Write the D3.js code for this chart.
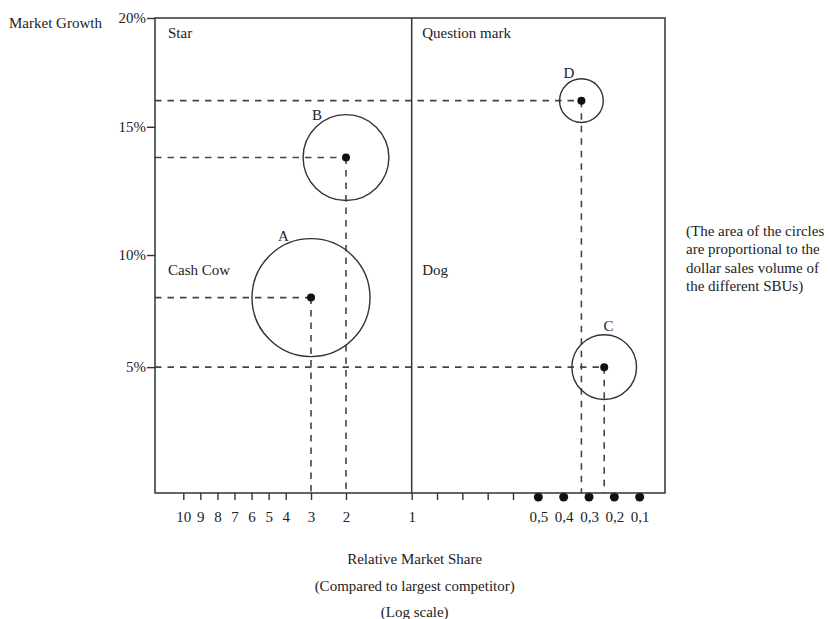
<!DOCTYPE html>
<html>
<head>
<meta charset="utf-8">
<script src="https://cdn.jsdelivr.net/npm/d3@7"></script>
<style>
  body { margin: 0; background: #fff; }
  svg text { font-family: "Liberation Serif", "Times New Roman", serif; font-size: 15px; fill: #222; }
  .frame { fill: none; stroke: #333; stroke-width: 1.5; }
  .guide { stroke: #444; stroke-width: 1.6; stroke-dasharray: 6.5,6; }
  .sbu-circle { fill: none; stroke: #333; stroke-width: 1.4; }
  .axis path { display: none; }
  .axis line { stroke: #333; stroke-width: 1.4; }
</style>
</head>
<body>
<div id="chart"></div>
<script>
// SBU data
const sbuNames = ['A', 'B', 'C', 'D'];
const relativeShare = [3, 2, 0.24, 0.33];      // relative market share (x)
const marketGrowth = [8.1, 13.8, 5, 16.2];      // market growth in % (y)
const salesVolume = [3.5, 1.85, 1.05, 0.48];    // dollar sales (circle area)

// Axis ticks
const growthTicks = [5, 10, 15, 20];
const shareTicks = [10, 9, 8, 7, 6, 5, 4, 3, 2, 1, 0.9, 0.8, 0.7, 0.6, 0.5, 0.4, 0.3, 0.2, 0.1];
const shareDots = [0.5, 0.4, 0.3, 0.2, 0.1];

const quadrantNames = ['Star', 'Question mark', 'Cash Cow', 'Dog'];
const noteLines = ['(The area of the circles', 'are proportional to the', 'dollar sales volume of', 'the different SBUs)'];
const xTitleLines = ['Relative Market Share', '(Compared to largest competitor)', '(Log scale)'];

const data = sbuNames.map((name, i) => ({
  name: name,
  share: relativeShare[i],
  growth: marketGrowth[i],
  sales: salesVolume[i]
}));

class BcgMatrix {

  constructor(_config, _data) {
    this.config = {
      parentElement: _config.parentElement,
      containerWidth: 829,
      containerHeight: 619,
      margin: {top: 18, right: 164, bottom: 126, left: 155},
      maxRadius: 59
    }
    this.data = _data;
    this.initVis();
  }

  initVis() {
    const vis = this;

    vis.config.width = vis.config.containerWidth - vis.config.margin.left - vis.config.margin.right;
    vis.config.height = vis.config.containerHeight - vis.config.margin.top - vis.config.margin.bottom;
    const w = vis.config.width, h = vis.config.height;

    vis.svg = d3.select(vis.config.parentElement).append('svg')
        .attr('width', vis.config.containerWidth)
        .attr('height', vis.config.containerHeight);

    vis.chart = vis.svg.append('g')
        .attr('transform', `translate(${vis.config.margin.left},${vis.config.margin.top})`);

    // The printed "log" axis is hand drawn: piecewise scale through its breaks
    vis.xScale = d3.scaleLinear()
        .domain([10, 4, 3, 2, 1, 0])
        .range([0.0555, 0.2563, 0.3059, 0.3745, 0.5033, 1].map(f => f * w));

    vis.yScale = d3.scaleLinear()
        .domain([0, 5, 10, 15, 20])
        .range([0, 0.265, 0.501, 0.771, 1].map(f => h - f * h));

    vis.rScale = d3.scaleSqrt()
        .domain([0, d3.max(vis.data, d => d.sales)])
        .range([0, vis.config.maxRadius]);

    vis.renderVis();
  }

  renderVis() {
    const vis = this;
    const w = vis.config.width, h = vis.config.height;
    const fmt = d3.formatLocale({decimal: ',', thousands: '.', grouping: [3], currency: ['', '']}).format('.1f');

    // y axis
    vis.chart.append('g')
        .attr('class', 'axis y-axis')
        .call(d3.axisLeft(vis.yScale)
          .tickValues(growthTicks)
          .tickSize(8)
          .tickPadding(1)
          .tickFormat(d => d + '%'));

    // x axis (the dotted values get a dot instead of a tick line)
    const xAxisG = vis.chart.append('g')
        .attr('class', 'axis x-axis')
        .attr('transform', `translate(0,${h})`)
        .call(d3.axisBottom(vis.xScale)
          .tickValues(shareTicks)
          .tickSize(7)
          .tickPadding(11)
          .tickFormat(d => d >= 1 ? d : (shareDots.includes(d) ? fmt(d) : '')));

    xAxisG.selectAll('.tick')
        .filter(d => shareDots.includes(d))
        .select('line').remove();

    xAxisG.selectAll('.axis-dot')
        .data(shareDots)
      .join('circle')
        .attr('class', 'axis-dot')
        .attr('cx', d => vis.xScale(d))
        .attr('cy', 4)
        .attr('r', 4.5)
        .attr('fill', '#111');

    // Dashed guides from the axes to each SBU
    vis.chart.selectAll('.guide-h')
        .data(vis.data)
      .join('line')
        .attr('class', 'guide guide-h')
        .attr('x1', 0)
        .attr('x2', d => vis.xScale(d.share))
        .attr('y1', d => vis.yScale(d.growth))
        .attr('y2', d => vis.yScale(d.growth));

    vis.chart.selectAll('.guide-v')
        .data(vis.data)
      .join('line')
        .attr('class', 'guide guide-v')
        .attr('x1', d => vis.xScale(d.share))
        .attr('x2', d => vis.xScale(d.share))
        .attr('y1', d => vis.yScale(d.growth))
        .attr('y2', h);

    // Frame and the divider at share = 1
    vis.chart.append('rect')
        .attr('class', 'frame')
        .attr('width', w)
        .attr('height', h);

    vis.chart.append('line')
        .attr('class', 'frame')
        .attr('x1', vis.xScale(1))
        .attr('x2', vis.xScale(1))
        .attr('y1', 0)
        .attr('y2', h);

    // Bubbles
    const sbu = vis.chart.selectAll('.sbu')
        .data(vis.data)
      .join('g')
        .attr('class', 'sbu')
        .attr('transform', d => `translate(${vis.xScale(d.share)},${vis.yScale(d.growth)})`);

    sbu.append('circle')
        .attr('class', 'sbu-circle')
        .attr('r', d => vis.rScale(d.sales));

    sbu.append('circle')
        .attr('r', 4)
        .attr('fill', '#111');

    // Letter sits just outside the circle, up and to the left
    const labelAngle = {A: 114, B: 124, C: 84, D: 114};
    sbu.append('text')
        .attr('text-anchor', 'middle')
        .attr('dy', '0.35em')
        .attr('x', d => Math.cos(labelAngle[d.name] * Math.PI / 180) * (vis.rScale(d.sales) + 9))
        .attr('y', d => -Math.sin(labelAngle[d.name] * Math.PI / 180) * (vis.rScale(d.sales) + 9))
        .text(d => d.name);

    // Quadrant names
    const qx = [13, vis.xScale(1) + 10.5];
    const qy = [vis.yScale(20) + 20, vis.yScale(10) + 20];
    vis.chart.selectAll('.quadrant')
        .data(quadrantNames)
      .join('text')
        .attr('class', 'quadrant')
        .attr('x', (d, i) => qx[i % 2])
        .attr('y', (d, i) => qy[Math.floor(i / 2)])
        .text(d => d);

    // Axis titles
    vis.svg.append('text')
        .attr('x', 9)
        .attr('y', 28)
        .text('Market Growth');

    vis.svg.selectAll('.x-title')
        .data(xTitleLines)
      .join('text')
        .attr('class', 'x-title')
        .attr('text-anchor', 'middle')
        .attr('x', vis.config.margin.left + vis.xScale(1) + 3)
        .attr('y', (d, i) => 564 + i * 26.5)
        .text(d => d);

    // Note on the right
    vis.svg.selectAll('.note')
        .data(noteLines)
      .join('text')
        .attr('class', 'note')
        .attr('x', vis.config.margin.left + w + 21)
        .attr('y', (d, i) => 236 + i * 18.3)
        .text(d => d);
  }
}

new BcgMatrix({parentElement: '#chart'}, data);
</script>
</body>
</html>
